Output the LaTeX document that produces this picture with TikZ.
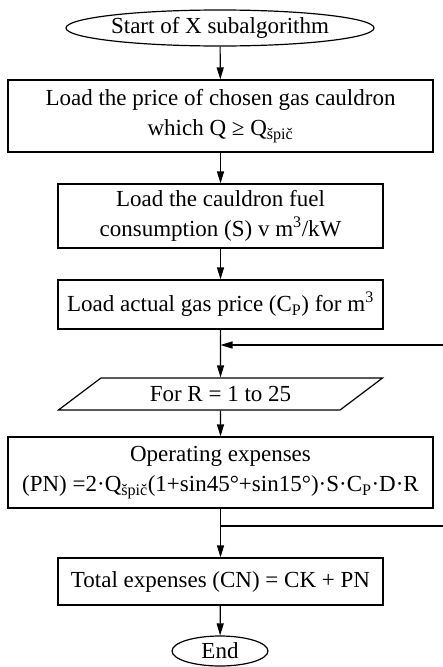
\documentclass[tikz,border=0pt]{standalone}
\usepackage{fontspec}
\setmainfont{Liberation Serif}
\usetikzlibrary{shapes.geometric, arrows.meta}
\newcommand{\dn}[1]{\textsubscript{#1}}
\newcommand{\up}[1]{\textsuperscript{#1}}

\begin{document}
\begin{tikzpicture}[x=1pt, y=-1pt, line width=1.2pt, font=\fontsize{23}{30}\selectfont,
  box/.style={draw, rectangle, align=center, inner sep=0pt},
  term/.style={draw, ellipse, inner sep=0pt},
  loopbox/.style={draw, trapezium, trapezium stretches=true, trapezium left angle=31.6,
    trapezium right angle=148.4, minimum width=325pt, minimum height=32pt, inner sep=0pt},
  arr/.style={-{Triangle[length=12pt, width=7pt]}}]
\useasboundingbox (0,0) rectangle (443,667);
\node[term, minimum width=257pt, minimum height=36pt] (start) at (220,28) {Start of X subalgorithm};
\node[box, minimum width=425pt, minimum height=72pt] (load1) at (220.5,116) {Load the price of chosen gas cauldron\\ which Q ≥ Q\dn{špič}};
\node[box, minimum width=325pt, minimum height=64pt] (load2) at (220.5,216) {Load the cauldron fuel\\ consumption (S) v m\up{3}/kW};
\node[box, minimum width=325pt, minimum height=49pt] (load3) at (220.5,304.5) {Load actual gas price (C\dn{P}) for m\up{3}};
\node[loopbox] (loop) at (220.5,394) {For R = 1 to 25};
\node[box, minimum width=425pt, minimum height=71pt] (oper) at (220.5,472.5) {Operating expenses\\ (PN) =2·Q\dn{špič}(1+sin45°+sin15°)·S·C\dn{P}·D·R};
\node[box, minimum width=325pt, minimum height=47pt] (total) at (220.5,581.5) {Total expenses (CN) = CK + PN};
\node[term, minimum width=96pt, minimum height=30pt] (end) at (220,651) {End};
\coordinate (back) at (443,345);
\coordinate (branch) at (443,526);
\draw[arr] (start) -- (load1);
\draw[arr] (load1) -- (load2);
\draw[arr] (load2) -- (load3);
\draw[arr] (load3) -- (loop);
\draw[arr] (back) -- (back -| load3.south);
\draw[arr] (loop) -- (oper);
\draw[arr] (oper) -- (total);
\draw (branch -| oper.south) -- (branch);
\draw[arr] (total) -- (end);
\end{tikzpicture}
\end{document}
